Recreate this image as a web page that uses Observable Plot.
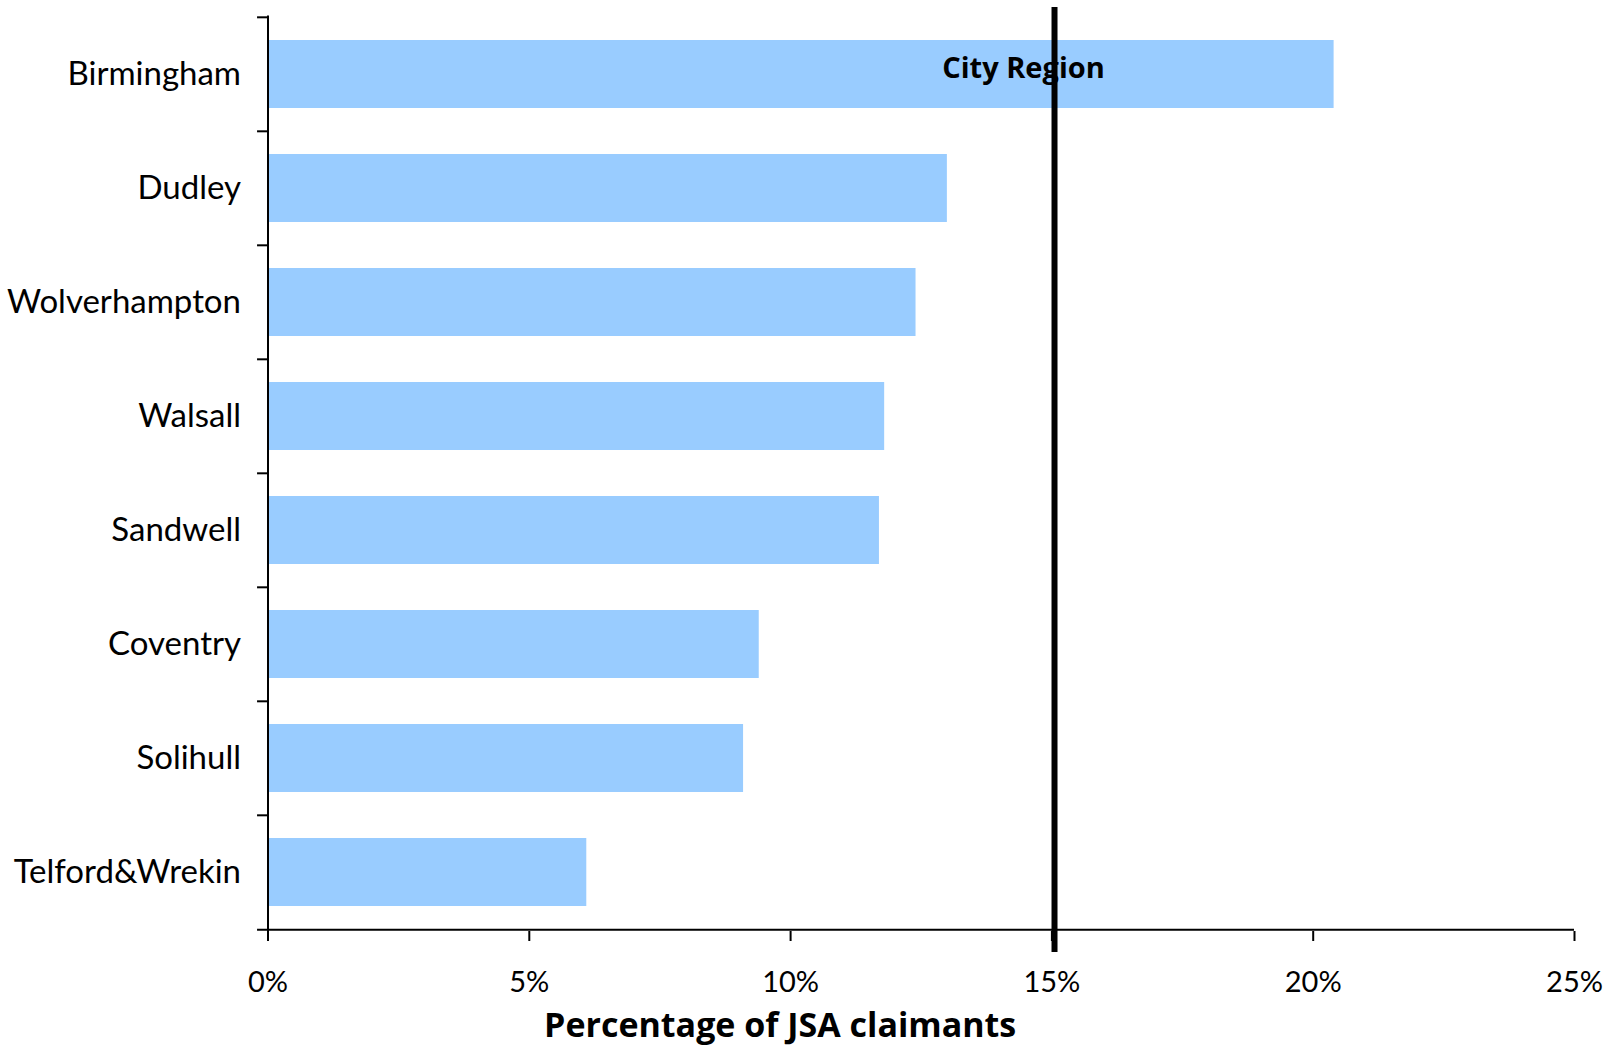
<!DOCTYPE html>
<html>
<head>
<meta charset="utf-8">
<script src="https://cdn.jsdelivr.net/npm/d3@7"></script>
<script src="https://cdn.jsdelivr.net/npm/@observablehq/plot@0.6"></script>
<style>
  html, body { margin: 0; padding: 0; background: #fff; }
  #chart svg { display: block; }
</style>
</head>
<body>
<div id="chart"></div>
<script>
const categories = ["Birmingham", "Dudley", "Wolverhampton", "Walsall", "Sandwell", "Coventry", "Solihull", "Telford&Wrekin"];
const values = [20.4, 13.0, 12.4, 11.8, 11.7, 9.4, 9.1, 6.1];
const xTicks = [0, 5, 10, 15, 20, 25];
const referenceValue = [15.05];
const referenceLabel = ["City Region"];
const axisTitle = ["Percentage of JSA claimants"];

const data = categories.map((c, i) => ({name: c, value: values[i]}));

const W = 1618, H = 1048;
const mTop = 16, mBottom = 117, mLeft = 267.5, mRight = 44;
const step = (H - mTop - mBottom) / categories.length;
const font = "Lato, 'Open Sans', sans-serif";
const boldFont = "'Open Sans', Lato, sans-serif";

const chart = Plot.plot({
  width: W,
  height: H,
  marginTop: mTop,
  marginBottom: mBottom,
  marginLeft: mLeft,
  marginRight: mRight,
  style: {fontFamily: font, fontSize: "31px", color: "#000", background: "#fff"},
  x: {domain: [0, 25]},
  y: {domain: categories, paddingInner: 0.4, paddingOuter: 0.2},
  marks: [
    Plot.barX(data, {x: "value", y: "name", fill: "#99CCFF"}),
    // y axis line
    Plot.frame({anchor: "left", stroke: "#000", strokeWidth: 2}),
    // x axis line, extended slightly left
    Plot.ruleY([categories[categories.length - 1]], {x1: -0.2, x2: 25, dy: step / 2, stroke: "#000", strokeWidth: 2}),
    // y tick marks at band boundaries
    Plot.ruleY(categories, {x1: -0.2, x2: 0, dy: -step / 2, stroke: "#000", strokeWidth: 2}),
    Plot.axisY({tickSize: 0, tickPadding: 27, fontSize: 33, fill: "#000", label: null}),
    Plot.axisX({ticks: xTicks, tickSize: 10, tickPadding: 30, tickFormat: d => d + "%", fontSize: 29, stroke: "#000", strokeWidth: 2, label: null}),
    Plot.ruleX(referenceValue, {stroke: "#000", strokeWidth: 6, insetTop: -9, insetBottom: -21}),
    Plot.text(referenceLabel, {x: () => referenceValue[0], y: () => categories[0], text: d => d, dx: -31, dy: -6, fontFamily: boldFont, fontWeight: "bold", fontSize: 29, fill: "#000", textAnchor: "middle"}),
    Plot.text(axisTitle, {x: () => 9.8, frameAnchor: "bottom", text: d => d, dy: 105, fontFamily: boldFont, fontWeight: "bold", fontSize: 34, fill: "#000", textAnchor: "middle"})
  ]
});

document.getElementById("chart").appendChild(chart);
</script>
</body>
</html>
